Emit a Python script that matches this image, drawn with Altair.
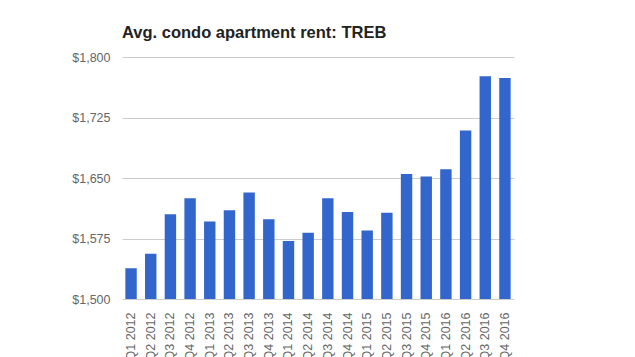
import altair as alt
import pandas as pd

quarters = ["Q1 2012", "Q2 2012", "Q3 2012", "Q4 2012",
            "Q1 2013", "Q2 2013", "Q3 2013", "Q4 2013",
            "Q1 2014", "Q2 2014", "Q3 2014", "Q4 2014",
            "Q1 2015", "Q2 2015", "Q3 2015", "Q4 2015",
            "Q1 2016", "Q2 2016", "Q3 2016", "Q4 2016"]
rent = [1538, 1556, 1605, 1625,
        1596, 1610, 1632, 1599,
        1572, 1582, 1625, 1608,
        1585, 1607, 1655, 1652,
        1661, 1709, 1776, 1774]
y_ticks = [1500, 1575, 1650, 1725, 1800]

df = pd.DataFrame({"quarter": quarters, "rent": rent})

chart = alt.Chart(df).mark_bar(color="#3366cc", clip=True).encode(
    x=alt.X("quarter:N", sort=quarters, title=None,
            scale=alt.Scale(paddingInner=0.42, paddingOuter=0.17),
            axis=alt.Axis(labelAngle=-90, labelAlign="right", labelBaseline="middle",
                          labelFont="Liberation Sans", labelFontSize=12.5,
                          labelColor="#666666", labelPadding=13,
                          ticks=False, domain=False, grid=False, zindex=1)),
    y=alt.Y("rent:Q", title=None,
            scale=alt.Scale(domain=[1500, 1800], nice=False, zero=False),
            axis=alt.Axis(values=y_ticks, format="$,.0f",
                          labelFont="Liberation Sans", labelFontSize=12.5,
                          labelColor="#666666", labelPadding=12,
                          ticks=False, domain=False,
                          gridColor="#cccccc", gridWidth=1)),
).properties(
    width=392,
    height=242,
    title=alt.TitleParams("Avg. condo apartment rent: TREB", anchor="start", frame="group",
                          font="Liberation Sans", fontSize=16.5, fontWeight="bold",
                          color="#222222", offset=10),
    autosize=alt.AutoSizeParams(type="none"),
    padding={"left": 122, "top": 57, "right": 121, "bottom": 58},
).configure_view(stroke=None)

chart.save("out.html", embed_options={"renderer": "svg", "actions": False})
